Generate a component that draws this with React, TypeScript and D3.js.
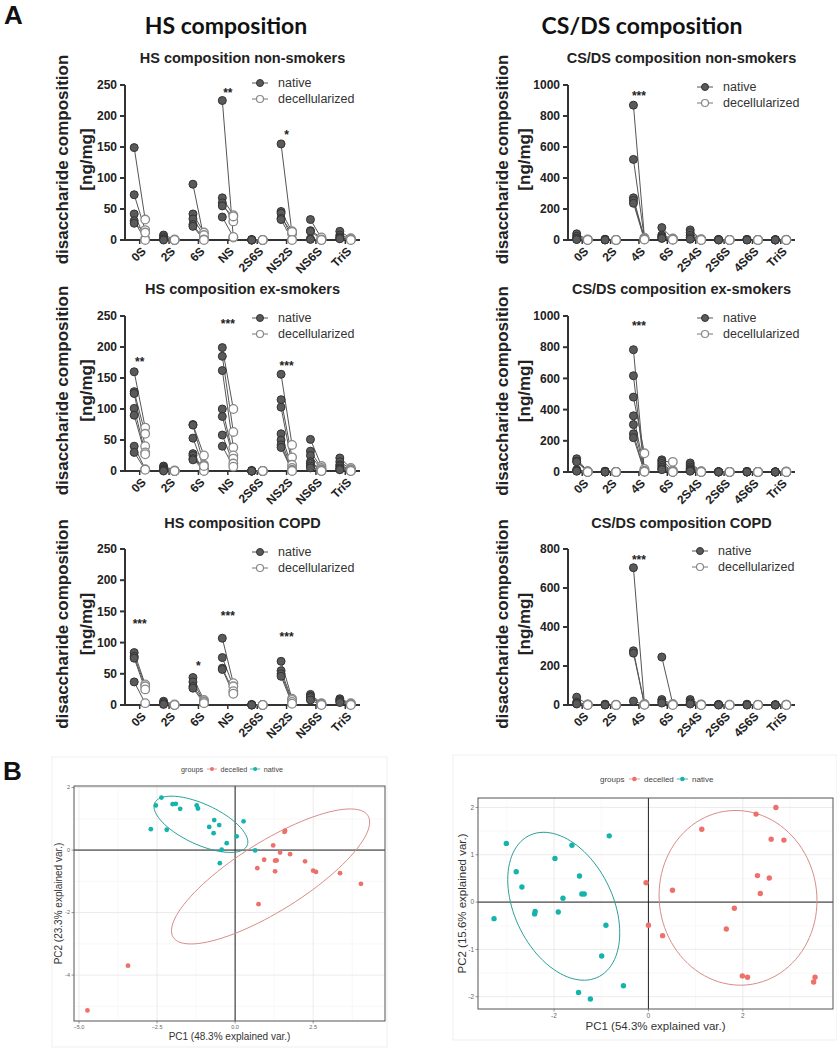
import React from "react";
import * as d3 from "d3";

// ---------- Panel A data ----------
const hsCategories = ["0S", "2S", "6S", "NS", "2S6S", "NS2S", "NS6S", "TriS"];
const csCategories = ["0S", "2S", "4S", "6S", "2S4S", "2S6S", "4S6S", "TriS"];

// values per category, per donor (ng/mg)
const hsNonSmokersNative = [
  [149, 73, 42, 31, 27], [8, 5, 2, 1, 0], [90, 42, 34, 25, 22], [225, 68, 60, 55, 37],
  [1, 0, 0, 0, 0], [155, 46, 43, 35, 33], [33, 15, 14, 2, 1], [14, 8, 5, 3, 2],
];
const hsNonSmokersDecell = [
  [33, 16, 2, 0, 12], [1, 0, 0, 0, 0], [3, 12, 8, 1, 0], [4, 40, 30, 38, 5],
  [0, 0, 0, 0, 0], [10, 14, 1, 13, 0], [3, 4, 1, 0, 0], [3, 2, 1, 1, 0],
];
const hsExSmokersNative = [
  [160, 128, 125, 101, 90, 40, 30], [8, 6, 4, 3, 2, 1, 0], [75, 74, 53, 28, 25, 20, 18],
  [199, 185, 162, 100, 88, 58, 40], [1, 0, 0, 0, 0, 0, 0], [156, 115, 103, 60, 50, 42, 38],
  [51, 32, 25, 15, 12, 8, 5], [21, 15, 10, 8, 5, 3, 2],
];
const hsExSmokersDecell = [
  [70, 60, 40, 30, 27, 3, 2], [1, 0, 0, 0, 0, 0, 0], [25, 10, 5, 2, 1, 0, 8],
  [100, 63, 38, 25, 20, 12, 7], [0, 0, 0, 0, 0, 0, 0], [42, 22, 10, 5, 2, 1, 0],
  [8, 5, 3, 2, 1, 0, 0], [5, 3, 2, 1, 1, 0, 0],
];
const hsCopdNative = [
  [84, 78, 75, 37], [6, 4, 2, 1], [44, 37, 30, 27], [107, 76, 59, 57],
  [1, 0, 0, 0], [70, 55, 50, 46], [17, 14, 12, 8], [10, 8, 6, 4],
];
const hsCopdDecell = [
  [33, 30, 25, 3], [1, 0, 0, 0], [8, 6, 5, 3], [35, 30, 22, 18],
  [0, 0, 0, 0], [10, 8, 5, 2], [3, 2, 1, 0], [3, 2, 1, 0],
];
const csNonSmokersNative = [
  [40, 25, 12, 5, 3], [5, 3, 2, 1, 0], [870, 520, 272, 255, 237], [80, 32, 22, 15, 10],
  [65, 48, 30, 15, 5], [4, 3, 2, 1, 0], [4, 3, 2, 1, 0], [3, 2, 1, 0, 0],
];
const csNonSmokersDecell = [
  [3, 2, 1, 1, 0], [1, 0, 0, 0, 0], [15, 10, 8, 5, 3], [10, 8, 5, 3, 2],
  [5, 3, 2, 1, 0], [1, 0, 0, 0, 0], [1, 0, 0, 0, 0], [2, 1, 0, 0, 0],
];
const csExSmokersNative = [
  [85, 70, 65, 15, 10, 8, 5], [5, 4, 3, 2, 1, 0, 0], [784, 617, 480, 360, 304, 245, 220],
  [78, 68, 55, 42, 30, 20, 15], [58, 45, 32, 22, 15, 10, 5], [3, 2, 1, 1, 0, 0, 0],
  [4, 3, 2, 1, 0, 0, 0], [2, 1, 1, 0, 0, 0, 0],
];
const csExSmokersDecell = [
  [5, 4, 3, 2, 1, 0, 0], [1, 0, 0, 0, 0, 0, 0], [5, 10, 120, 20, 8, 3, 2],
  [10, 65, 5, 3, 2, 1, 0], [5, 3, 2, 1, 1, 0, 0], [1, 0, 0, 0, 0, 0, 0],
  [1, 0, 0, 0, 0, 0, 0], [3, 2, 1, 0, 0, 0, 0],
];
const csCopdNative = [
  [40, 15, 8, 5], [4, 2, 1, 0], [704, 278, 266, 20], [246, 28, 18, 10],
  [28, 18, 10, 5], [3, 2, 1, 0], [4, 2, 1, 0], [2, 1, 0, 0],
];
const csCopdDecell = [
  [3, 2, 1, 0], [1, 0, 0, 0], [5, 3, 2, 1], [5, 3, 2, 0],
  [3, 2, 1, 0], [1, 0, 0, 0], [1, 0, 0, 0], [2, 1, 0, 0],
];

// significance marks: [category, label, height in ng/mg]
const hsNonSmokersStars: [string, string, number][] = [["NS", "**", 242], ["NS2S", "*", 175]];
const hsExSmokersStars: [string, string, number][] = [["0S", "**", 180], ["NS", "***", 242], ["NS2S", "***", 174]];
const hsCopdStars: [string, string, number][] = [["0S", "***", 134], ["6S", "*", 68], ["NS", "***", 148], ["NS2S", "***", 114]];
const csNonSmokersStars: [string, string, number][] = [["4S", "***", 950]];
const csExSmokersStars: [string, string, number][] = [["4S", "***", 956]];
const csCopdStars: [string, string, number][] = [["4S", "***", 760]];

const hsTicks = [0, 50, 100, 150, 200, 250];
const csTicks1000 = [0, 200, 400, 600, 800, 1000];
const csTicks800 = [0, 200, 400, 600, 800];

// ---------- Panel B data (PC1, PC2) ----------
const hsPcaNative: [number, number][] = [
  [-2.36, 1.68], [-2.54, 1.43], [-2.0, 1.47], [-1.9, 1.48], [-1.76, 1.32], [-1.23, 1.43],
  [-1.19, 1.33], [-2.7, 0.67], [-2.19, 0.65], [-0.67, 0.96], [-0.51, 0.8], [-0.83, 0.74],
  [-0.69, 0.54], [0.27, 0.92], [0.05, 0.44], [-0.27, 0.22], [-0.43, 0.01], [-0.49, -0.42],
  [0.64, -0.01],
];
const hsPcaDecelled: [number, number][] = [
  [1.6, 0.62], [1.58, 0.58], [1.22, 0.15], [1.44, -0.08], [1.76, -0.13], [0.93, -0.31],
  [1.28, -0.34], [1.33, -0.33], [0.71, -0.58], [1.28, -0.68], [2.24, -0.36], [2.5, -0.66],
  [2.59, -0.7], [3.36, -0.74], [4.03, -1.08], [0.75, -1.73], [-3.43, -3.7], [-4.73, -5.13],
];
const csPcaNative: [number, number][] = [
  [-3.01, 1.24], [-3.27, -0.35], [-2.8, 0.64], [-2.68, 0.32], [-2.4, -0.2], [-2.41, -0.25],
  [-1.98, 0.92], [-1.91, -0.21], [-1.81, 0.08], [-1.62, 1.2], [-1.46, 0.55], [-1.41, 0.17],
  [-1.36, 0.17], [-0.83, 1.4], [-0.9, -0.49], [-0.99, -1.14], [-0.53, -1.77], [-1.48, -1.91],
  [-1.23, -2.05],
];
const csPcaDecelled: [number, number][] = [
  [-0.05, 0.41], [0.51, 0.25], [0.0, -0.49], [0.3, -0.71], [1.13, 1.54], [2.28, 1.86],
  [2.7, 2.0], [2.6, 1.33], [2.87, 1.31], [2.31, 0.56], [2.56, 0.51], [2.37, 0.18],
  [1.82, -0.13], [1.65, -0.57], [1.99, -1.56], [2.1, -1.59], [3.53, -1.59], [3.5, -1.69],
];

const AX = "#333";
const TXT = "#222";
const ARIAL = "'Liberation Sans', Arial, sans-serif";

type PanelProps = {
  categories: string[];
  native: number[][];
  decell: number[][];
  stars: [string, string, number][];
  ticks: number[];
  yMax: number;
  x0: number;
  x1: number;
  yTop: number;
  yBottom: number;
  subtitle: string;
  subtitleY: number;
  legendX: number;
  legendY: number;
  labelX1: number;
  labelX2: number;
};

function PairedPanel(p: PanelProps) {
  const x = d3.scaleBand<string>().domain(p.categories).range([p.x0, p.x1]);
  const y = d3.scaleLinear().domain([0, p.yMax]).range([p.yBottom, p.yTop]);
  const cx = (c: string) => (x(c) as number) + x.bandwidth() / 2;
  const off = 5.5;
  const midY = (p.yTop + p.yBottom) / 2 - 3;
  return (
    <g fontFamily={ARIAL}>
      <text x={(p.x0 + p.x1) / 2} y={p.subtitleY} textAnchor="middle" fontWeight="bold" fontSize={14.5} fill={TXT}>
        {p.subtitle}
      </text>
      <text transform={`translate(${p.labelX1},${midY}) rotate(-90)`} dy="0.35em" textAnchor="middle" fontWeight="bold" fontSize={17} fill={TXT}>
        disaccharide composition
      </text>
      <text transform={`translate(${p.labelX2},${midY}) rotate(-90)`} dy="0.35em" textAnchor="middle" fontWeight="bold" fontSize={17} fill={TXT}>
        [ng/mg]
      </text>
      {/* y axis */}
      <line x1={p.x0} x2={p.x0} y1={p.yTop} y2={p.yBottom} stroke={AX} strokeWidth={2} />
      {p.ticks.map((t) => (
        <g key={t}>
          <line x1={p.x0 - 5} x2={p.x0} y1={y(t)} y2={y(t)} stroke={AX} strokeWidth={2} />
          <text x={p.x0 - 8} y={y(t)} dy="0.35em" textAnchor="end" fontWeight="bold" fontSize={12} fill={TXT}>
            {t}
          </text>
        </g>
      ))}
      {/* x axis */}
      <line x1={p.x0 - 1} x2={p.x1} y1={p.yBottom} y2={p.yBottom} stroke={AX} strokeWidth={2} />
      {p.categories.map((c) => (
        <g key={c}>
          <line x1={cx(c)} x2={cx(c)} y1={p.yBottom} y2={p.yBottom + 4} stroke={AX} strokeWidth={1.5} />
          <text
            transform={`translate(${cx(c) + 4},${p.yBottom + 9}) rotate(-45)`}
            dy="0.35em"
            textAnchor="end"
            fontWeight="bold"
            fontSize={12}
            fill={TXT}
          >
            {c}
          </text>
        </g>
      ))}
      {/* paired lines */}
      {p.categories.map((c, i) =>
        p.native[i].map((v, j) => (
          <line
            key={`l${c}${j}`}
            x1={cx(c) - off}
            y1={y(v)}
            x2={cx(c) + off}
            y2={y(p.decell[i][j])}
            stroke="#555"
            strokeWidth={1}
          />
        ))
      )}
      {p.categories.map((c, i) =>
        p.decell[i].map((v, j) => (
          <circle key={`d${c}${j}`} cx={cx(c) + off} cy={y(v)} r={4.3} fill="#fff" stroke="#888" strokeWidth={1.3} />
        ))
      )}
      {p.categories.map((c, i) =>
        p.native[i].map((v, j) => (
          <circle key={`n${c}${j}`} cx={cx(c) - off} cy={y(v)} r={4} fill="#5a5a5a" stroke="#333" strokeWidth={1} />
        ))
      )}
      {p.stars.map(([c, s, v]) => (
        <text key={c} x={cx(c)} y={y(v) + 7} textAnchor="middle" fontWeight="bold" fontSize={12} fill={TXT}>
          {s}
        </text>
      ))}
      {/* legend */}
      <g>
        <line x1={p.legendX - 8} x2={p.legendX + 8} y1={p.legendY} y2={p.legendY} stroke="#555" strokeWidth={1} />
        <circle cx={p.legendX} cy={p.legendY} r={3.5} fill="#5a5a5a" stroke="#333" />
        <text x={p.legendX + 18} y={p.legendY} dy="0.35em" fontSize={12.5} fill="#333">
          native
        </text>
        <line x1={p.legendX - 8} x2={p.legendX + 8} y1={p.legendY + 16} y2={p.legendY + 16} stroke="#777" strokeWidth={1} />
        <circle cx={p.legendX} cy={p.legendY + 16} r={3.5} fill="#fff" stroke="#888" strokeWidth={1.2} />
        <text x={p.legendX + 18} y={p.legendY + 16} dy="0.35em" fontSize={12.5} fill="#333">
          decellularized
        </text>
      </g>
    </g>
  );
}

const TEAL = "#14b4ad";
const SALMON = "#ee706a";

function ellipsePoints(pts: [number, number][]) {
  const n = pts.length;
  const mx = d3.mean(pts, (d) => d[0]) as number;
  const my = d3.mean(pts, (d) => d[1]) as number;
  let sxx = 0, syy = 0, sxy = 0;
  pts.forEach(([a, b]) => {
    sxx += (a - mx) * (a - mx);
    syy += (b - my) * (b - my);
    sxy += (a - mx) * (b - my);
  });
  sxx /= n - 1;
  syy /= n - 1;
  sxy /= n - 1;
  const ed = Math.sqrt(-2 * Math.log(1 - 0.68));
  const a = Math.sqrt(sxx);
  const b = sxy / a;
  const c = Math.sqrt(syy - b * b);
  return d3.range(0, 101).map((k) => {
    const t = (k / 100) * 2 * Math.PI;
    const u = Math.cos(t), v = Math.sin(t);
    return [mx + ed * a * u, my + ed * (b * u + c * v)] as [number, number];
  });
}

type PcaProps = {
  frame: [number, number, number, number];
  panel: [number, number, number, number];
  xDomain: [number, number];
  yDomain: [number, number];
  xMajor: number[];
  xMinor: number[];
  yMajor: number[];
  yMinor: number[];
  xFmt: (v: number) => string;
  native: [number, number][];
  decelled: [number, number][];
  xTitle: string;
  yTitle: string;
  titleSize: number;
  tickSize: number;
  legendSize: number;
  legendX: number;
  legendY: number;
  yTitleX: number;
  xTitleY: number;
  r: number;
};

function PcaPlot(p: PcaProps) {
  const [px0, py0, px1, py1] = p.panel;
  const x = d3.scaleLinear().domain(p.xDomain).range([px0, px1]);
  const y = d3.scaleLinear().domain(p.yDomain).range([py1, py0]);
  const line = d3.line<[number, number]>().x((d) => x(d[0])).y((d) => y(d[1]));
  const eN = ellipsePoints(p.native);
  const eD = ellipsePoints(p.decelled);
  const ls = p.legendSize;
  return (
    <g fontFamily={ARIAL}>
      <rect x={p.frame[0]} y={p.frame[1]} width={p.frame[2] - p.frame[0]} height={p.frame[3] - p.frame[1]} fill="#fff" stroke="#efefef" />
      {p.xMinor.map((v) => (
        <line key={`xm${v}`} x1={x(v)} x2={x(v)} y1={py0} y2={py1} stroke="#f4f4f4" strokeWidth={0.6} />
      ))}
      {p.yMinor.map((v) => (
        <line key={`ym${v}`} y1={y(v)} y2={y(v)} x1={px0} x2={px1} stroke="#f4f4f4" strokeWidth={0.6} />
      ))}
      {p.xMajor.map((v) => (
        <line key={`xM${v}`} x1={x(v)} x2={x(v)} y1={py0} y2={py1} stroke="#e6e6e6" strokeWidth={0.8} />
      ))}
      {p.yMajor.map((v) => (
        <line key={`yM${v}`} y1={y(v)} y2={y(v)} x1={px0} x2={px1} stroke="#e6e6e6" strokeWidth={0.8} />
      ))}
      <line x1={x(0)} x2={x(0)} y1={py0} y2={py1} stroke="#222" strokeWidth={1} />
      <line y1={y(0)} y2={y(0)} x1={px0} x2={px1} stroke="#222" strokeWidth={1} />
      <rect x={px0} y={py0} width={px1 - px0} height={py1 - py0} fill="none" stroke="#555" strokeWidth={1} />
      {p.xMajor.map((v) => (
        <g key={`xt${v}`}>
          <line x1={x(v)} x2={x(v)} y1={py1} y2={py1 + 2.5} stroke="#555" strokeWidth={0.6} />
          <text x={x(v)} y={py1 + 4} dy="0.71em" textAnchor="middle" fontSize={p.tickSize} fill="#666">
            {p.xFmt(v)}
          </text>
        </g>
      ))}
      {p.yMajor.map((v) => (
        <g key={`yt${v}`}>
          <line x1={px0 - 2.5} x2={px0} y1={y(v)} y2={y(v)} stroke="#555" strokeWidth={0.6} />
          <text x={px0 - 4} y={y(v)} dy="0.35em" textAnchor="end" fontSize={p.tickSize} fill="#666">
            {v}
          </text>
        </g>
      ))}
      <path d={line(eD) || ""} fill="none" stroke="#d98c88" strokeWidth={1} />
      <path d={line(eN) || ""} fill="none" stroke="#2a9f99" strokeWidth={1} />
      {p.decelled.map((d, i) => (
        <circle key={`pd${i}`} cx={x(d[0])} cy={y(d[1])} r={p.r} fill={SALMON} />
      ))}
      {p.native.map((d, i) => (
        <circle key={`pn${i}`} cx={x(d[0])} cy={y(d[1])} r={p.r} fill={TEAL} />
      ))}
      <text x={(px0 + px1) / 2} y={p.xTitleY} textAnchor="middle" fontSize={p.titleSize} fill="#333">
        {p.xTitle}
      </text>
      <text transform={`translate(${p.yTitleX},${(py0 + py1) / 2}) rotate(-90)`} dy="0.35em" textAnchor="middle" fontSize={p.titleSize} fill="#333">
        {p.yTitle}
      </text>
      {/* legend */}
      <g fontSize={ls} fill="#444">
        <text x={p.legendX} y={p.legendY} dy="0.35em">groups</text>
        <line x1={p.legendX + 3.6 * ls} x2={p.legendX + 5.0 * ls} y1={p.legendY} y2={p.legendY} stroke="#d98c88" strokeWidth={0.8} />
        <circle cx={p.legendX + 4.3 * ls} cy={p.legendY} r={p.r * 0.85} fill={SALMON} />
        <text x={p.legendX + 5.5 * ls} y={p.legendY} dy="0.35em">decelled</text>
        <line x1={p.legendX + 9.6 * ls} x2={p.legendX + 11.0 * ls} y1={p.legendY} y2={p.legendY} stroke="#2a9f99" strokeWidth={0.8} />
        <circle cx={p.legendX + 10.3 * ls} cy={p.legendY} r={p.r * 0.85} fill={TEAL} />
        <text x={p.legendX + 11.5 * ls} y={p.legendY} dy="0.35em">native</text>
      </g>
    </g>
  );
}

export default function App() {
  const hsBase = { categories: hsCategories, ticks: hsTicks, yMax: 250, x0: 125, x1: 360, legendX: 260, labelX1: 62, labelX2: 86 };
  const csBase = { categories: csCategories, x0: 568, x1: 795, legendX: 705, labelX1: 502, labelX2: 524 };
  return (
    <svg width={837} height={1050} style={{ position: "absolute", left: 0, top: 0, background: "#fff" }}>
      <rect x={0} y={0} width={837} height={1050} fill="#fff" />
      <text x={4} y={24} fontFamily={ARIAL} fontWeight="bold" fontSize={26} fill="#111">A</text>
      <text x={226} y={34} textAnchor="middle" fontFamily="Lato, 'Open Sans', sans-serif" fontWeight="bold" fontSize={23} fill="#111">
        HS composition
      </text>
      <text x={642} y={34} textAnchor="middle" fontFamily="Lato, 'Open Sans', sans-serif" fontWeight="bold" fontSize={23} fill="#111">
        CS/DS composition
      </text>

      <PairedPanel {...hsBase} native={hsNonSmokersNative} decell={hsNonSmokersDecell} stars={hsNonSmokersStars}
        yTop={85} yBottom={240} subtitle="HS composition non-smokers" subtitleY={63} legendY={83} />
      <PairedPanel {...hsBase} native={hsExSmokersNative} decell={hsExSmokersDecell} stars={hsExSmokersStars}
        yTop={316} yBottom={471} subtitle="HS composition ex-smokers" subtitleY={294} legendY={318} />
      <PairedPanel {...hsBase} native={hsCopdNative} decell={hsCopdDecell} stars={hsCopdStars}
        yTop={549} yBottom={705} subtitle="HS composition COPD" subtitleY={528} legendY={552} />

      <PairedPanel {...csBase} ticks={csTicks1000} yMax={1000} native={csNonSmokersNative} decell={csNonSmokersDecell}
        stars={csNonSmokersStars} yTop={85} yBottom={240} subtitle="CS/DS composition non-smokers" subtitleY={63} legendY={87} />
      <PairedPanel {...csBase} ticks={csTicks1000} yMax={1000} native={csExSmokersNative} decell={csExSmokersDecell}
        stars={csExSmokersStars} yTop={316} yBottom={472} subtitle="CS/DS composition ex-smokers" subtitleY={294} legendY={318} />
      <PairedPanel {...csBase} legendX={700} ticks={csTicks800} yMax={800} native={csCopdNative} decell={csCopdDecell}
        stars={csCopdStars} yTop={549} yBottom={705} subtitle="CS/DS composition COPD" subtitleY={528} legendY={551} />

      <text x={3} y={780} fontFamily={ARIAL} fontWeight="bold" fontSize={26} fill="#111">B</text>

      <PcaPlot
        frame={[52, 757, 387, 1047]}
        panel={[74, 786, 385, 1021]}
        xDomain={[-5.16, 4.8]}
        yDomain={[-5.47, 2.05]}
        xMajor={[-5, -2.5, 0, 2.5]}
        xMinor={[-3.75, -1.25, 1.25, 3.75]}
        yMajor={[-4, -2, 0, 2]}
        yMinor={[-5, -3, -1, 1]}
        xFmt={(v) => d3.format(".1f")(v)}
        native={hsPcaNative}
        decelled={hsPcaDecelled}
        xTitle="PC1 (48.3% explained var.)"
        yTitle="PC2 (23.3% explained var.)"
        titleSize={10}
        tickSize={5.5}
        legendSize={7.2}
        legendX={181}
        legendY={769}
        yTitleX={58}
        xTitleY={1040}
        r={2.4}
      />
      <PcaPlot
        frame={[453, 755, 837, 1040]}
        panel={[478, 798, 833, 1009]}
        xDomain={[-3.61, 3.91]}
        yDomain={[-2.26, 2.2]}
        xMajor={[-2, 0, 2]}
        xMinor={[-3, -1, 1, 3]}
        yMajor={[-2, -1, 0, 1, 2]}
        yMinor={[-1.5, -0.5, 0.5, 1.5]}
        xFmt={(v) => String(v)}
        native={csPcaNative}
        decelled={csPcaDecelled}
        xTitle="PC1 (54.3% explained var.)"
        yTitle="PC2 (15.6% explained var.)"
        titleSize={11.5}
        tickSize={6.5}
        legendSize={8}
        legendX={600}
        legendY={779}
        yTitleX={462}
        xTitleY={1030}
        r={2.7}
      />
    </svg>
  );
}
